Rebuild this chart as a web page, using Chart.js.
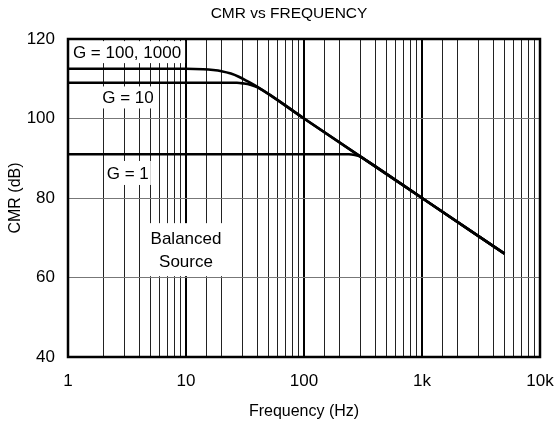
<!DOCTYPE html>
<html>
<head>
<meta charset="utf-8">
<script src="https://cdn.jsdelivr.net/npm/chart.js@4.4.1/dist/chart.umd.min.js"></script>
<style>
  html, body { margin: 0; padding: 0; background: #fff; }
  #wrap { width: 555px; height: 423px; }
</style>
</head>
<body>
<div id="wrap"><canvas id="cmr-chart"></canvas></div>
<script>
// Values
const freqG100 = [1, 10, 14, 17, 20, 24, 28, 33, 40, 100, 1000, 5000];
const cmrG100 = [112.5, 112.5, 112.4, 112.2, 111.9, 111.3, 110.5, 109.4, 108.0, 100, 80, 66];

const freqG10 = [1, 27, 31, 35, 40, 100, 1000, 5000];
const cmrG10 = [109, 109, 108.8, 108.5, 107.9, 100, 80, 66];

const freqG1 = [1, 240, 270, 300, 340, 1000, 5000];
const cmrG1 = [91, 91, 90.8, 90.4, 89.4, 80, 66];

const xTickLabels = { 1: '1', 10: '10', 100: '100', 1000: '1k', 10000: '10k' };
const yTicks = [40, 60, 80, 100, 120];

const chartTitle = 'CMR vs FREQUENCY';
const FONT = "'Liberation Sans', Arial, Helvetica, sans-serif";

function toPoints(xs, ys) {
    return xs.map((x, i) => ({ x: x, y: ys[i] }));
}

function isDecade(v) {
    return xTickLabels[v] !== undefined;
}

// Text labels inside the plot, placed in data coordinates (Hz, dB)
const plotLabels = [
    { lines: ['G = 100, 1000'], f: 1.1, db: 116.7, align: 'left', padX: 4, padY: 2 },
    { lines: ['G = 10'], f: 1.95, db: 105.3, align: 'left', padX: 2, padY: 2 },
    { lines: ['G = 1'], f: 2.13, db: 86.3, align: 'left', padX: 2, padY: 3 },
    { lines: ['Balanced', 'Source'], f: 10, db: 69.9, align: 'center', padX: 8, padY: 6 }
];

const labelPlugin = {
    id: 'plotLabels',
    beforeDatasetsDraw(chart) {
        const ctx = chart.ctx;
        const xs = chart.scales.x, ys = chart.scales.y;
        const lineH = 23;
        ctx.save();
        ctx.font = '17px ' + FONT;
        ctx.textBaseline = 'middle';
        plotLabels.forEach(lb => {
            const px = xs.getPixelForValue(lb.f);
            const py = ys.getPixelForValue(lb.db);
            const w = Math.max(...lb.lines.map(t => ctx.measureText(t).width));
            const left = lb.align === 'center' ? px - w / 2 : px;
            const top = py - 9;
            const h = 18 + (lb.lines.length - 1) * lineH;
            ctx.fillStyle = '#fff';
            ctx.fillRect(left - lb.padX, top - lb.padY, w + lb.padX * 2, h + lb.padY * 2);
            ctx.fillStyle = '#000';
            ctx.textAlign = lb.align;
            lb.lines.forEach((t, i) => {
                ctx.fillText(t, px, py + i * lineH + 1);
            });
        });
        ctx.restore();
    },
    afterDraw(chart) {
        const { left, top, width, height } = chart.chartArea;
        const ctx = chart.ctx;
        ctx.save();
        ctx.strokeStyle = '#000';
        ctx.lineWidth = 2.5;
        ctx.strokeRect(left, top, width, height);
        // title, centred as in the reference
        ctx.fillStyle = '#000';
        ctx.font = '15.5px ' + FONT;
        ctx.textAlign = 'center';
        ctx.textBaseline = 'middle';
        ctx.fillText(chartTitle, 289, 14);
        ctx.restore();
    }
};

const curveStyle = {
    borderColor: '#000',
    borderWidth: 2.6,
    pointRadius: 0,
    fill: false,
    cubicInterpolationMode: 'monotone'
};

new Chart(document.getElementById('cmr-chart'), {
    type: 'line',
    data: {
        datasets: [
            { label: 'G = 100, 1000', data: toPoints(freqG100, cmrG100), ...curveStyle },
            { label: 'G = 10', data: toPoints(freqG10, cmrG10), ...curveStyle },
            { label: 'G = 1', data: toPoints(freqG1, cmrG1), ...curveStyle }
        ]
    },
    options: {
        responsive: true,
        maintainAspectRatio: false,
        animation: false,
        layout: { padding: { left: 0, right: 15, top: 39, bottom: 0 } },
        plugins: {
            legend: { display: false },
            tooltip: { enabled: false },
            title: { display: false }
        },
        scales: {
            x: {
                type: 'logarithmic',
                min: 1,
                max: 10000,
                afterFit: scale => {
                    scale.height = 66;
                    scale.paddingLeft = 0;
                    scale.paddingRight = 0;
                },
                border: { display: false },
                grid: {
                    drawTicks: false,
                    color: ctx => isDecade(ctx.tick.value) ? '#000' : '#222',
                    lineWidth: ctx => isDecade(ctx.tick.value) ? 2 : 1
                },
                ticks: {
                    autoSkip: false,
                    maxRotation: 0,
                    padding: 14,
                    color: '#000',
                    font: { family: FONT, size: 17 },
                    callback: value => xTickLabels[value] || ''
                },
                title: {
                    display: true,
                    text: 'Frequency (Hz)',
                    color: '#000',
                    font: { family: FONT, size: 16 },
                    padding: { top: 0, bottom: 2 }
                }
            },
            y: {
                min: yTicks[0],
                max: yTicks[yTicks.length - 1],
                afterFit: scale => {
                    scale.width = 68;
                    scale.paddingTop = 0;
                    scale.paddingBottom = 0;
                },
                afterBuildTicks: scale => { scale.ticks = yTicks.map(v => ({ value: v })); },
                border: { display: false },
                grid: {
                    drawTicks: false,
                    color: '#777',
                    lineWidth: 1
                },
                ticks: {
                    padding: 13,
                    color: '#000',
                    font: { family: FONT, size: 17 }
                },
                title: {
                    display: true,
                    text: 'CMR (dB)',
                    color: '#000',
                    font: { family: FONT, size: 16 },
                    padding: { top: 6, bottom: 0 }
                }
            }
        }
    },
    plugins: [labelPlugin]
});
</script>
</body>
</html>
